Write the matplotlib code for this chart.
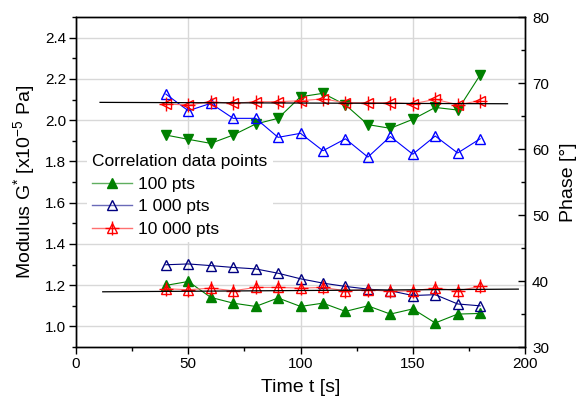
import numpy as np
import matplotlib
matplotlib.use('Agg')
import matplotlib.pyplot as plt
from matplotlib.lines import Line2D
from matplotlib.ticker import MultipleLocator

# sampling times [s]
time_s = [40, 50, 60, 70, 80, 90, 100, 110, 120, 130, 140, 150, 160, 170, 180]

# modulus G* [x10^-5 Pa] for the three correlation lengths
mod_100 = [1.199, 1.218, 1.141, 1.113, 1.097, 1.138, 1.097, 1.113, 1.073, 1.100,
           1.060, 1.085, 1.017, 1.060, 1.063]
mod_1000 = [1.299, 1.303, 1.295, 1.286, 1.279, 1.258, 1.231, 1.210, 1.194, 1.181,
            1.173, 1.150, 1.154, 1.109, 1.100]
mod_10000 = [1.183, 1.178, 1.186, 1.173, 1.189, 1.189, 1.186, 1.189, 1.173, 1.178,
             1.170, 1.173, 1.186, 1.173, 1.194]

# phase angle [deg]
phase_100 = [62.12, 61.47, 60.86, 62.12, 63.79, 64.65, 67.92, 68.44, 66.70, 63.70,
             63.14, 64.50, 66.30, 65.91, 71.21]
phase_1000 = [68.33, 65.80, 66.92, 64.65, 64.65, 61.77, 62.38, 59.74, 61.55, 58.78,
              61.90, 59.22, 61.97, 59.40, 61.55]
phase_10000 = [66.82, 66.67, 67.17, 66.92, 67.17, 67.17, 67.32, 67.60, 67.02, 67.02,
               67.02, 66.85, 67.53, 66.72, 67.32]

# straight reference fits
fit_mod_t = [11.9, 197.0]
fit_mod = [1.168, 1.181]
fit_phase_t = [10.7, 192.2]
fit_phase = [67.07, 66.86]

legend_labels = ['100 pts', '1 000 pts', '10 000 pts']

plt.rcParams.update({
    'font.family': ['Liberation Sans', 'DejaVu Sans'],
    'mathtext.default': 'regular',
    'font.size': 11,
    'axes.linewidth': 1.0,
})

fig = plt.figure(figsize=(5.76, 4.05), dpi=100)
ax = fig.add_axes([0.132, 0.143, 0.7795, 0.815])
ax2 = ax.twinx()

GREEN = '#008000'
NAVY = '#000080'
BLUE = '#0000ff'
RED = '#ff0000'
ms = 6.8
lw = 0.8

# modulus on the left axis
ax.plot(time_s, mod_100, color=GREEN, lw=lw, marker='^', ms=ms,
        mfc=GREEN, mec=GREEN, zorder=3)
ax.plot(time_s, mod_1000, color=NAVY, lw=lw, marker='^', ms=ms,
        mfc='none', mec=NAVY, mew=1.0, zorder=3)
ax.plot(time_s, mod_10000, color='#ff7070', lw=lw, marker='^', ms=ms,
        mfc='none', mec=RED, mew=1.0, zorder=4)
ax.plot(time_s, mod_10000, ls='none', marker='+', ms=9.5, mec=RED, mew=1.0, zorder=4)
ax.plot(fit_mod_t, fit_mod, color='black', lw=0.9, zorder=5)

# phase on the right axis
ax2.plot(time_s, phase_100, color=GREEN, lw=lw, marker='v', ms=ms,
         mfc=GREEN, mec=GREEN, zorder=3)
ax2.plot(time_s, phase_1000, color=BLUE, lw=lw, marker='^', ms=ms,
         mfc='none', mec=BLUE, mew=1.0, zorder=3)
ax2.plot(time_s, phase_10000, color='#ff7070', lw=lw, marker='<', ms=ms,
         mfc='none', mec=RED, mew=1.0, zorder=4)
ax2.plot(time_s, phase_10000, ls='none', marker='+', ms=9.5, mec=RED, mew=1.0, zorder=4)
ax2.plot(fit_phase_t, fit_phase, color='black', lw=0.9, zorder=5)

ax.set_xlim(0, 200)
ax.set_ylim(0.9, 2.5)
ax2.set_ylim(30, 80)

ax.xaxis.set_major_locator(MultipleLocator(50))
ax.xaxis.set_minor_locator(MultipleLocator(25))
ax.yaxis.set_major_locator(MultipleLocator(0.2))
ax.yaxis.set_minor_locator(MultipleLocator(0.1))
ax2.yaxis.set_major_locator(MultipleLocator(10))
ax2.yaxis.set_minor_locator(MultipleLocator(5))
ax.yaxis.set_major_formatter(matplotlib.ticker.FormatStrFormatter('%.1f'))

ax.tick_params(axis='both', which='major', direction='out', length=5, width=1.0,
               labelsize=11, pad=2)
ax.tick_params(axis='both', which='minor', direction='out', length=3, width=1.0)
ax2.tick_params(axis='y', which='major', direction='in', length=5, width=1.0,
                labelsize=11, pad=5)
ax2.tick_params(axis='y', which='minor', direction='in', length=3, width=1.0)

ax.grid(True, which='major', color='#d8d8d8', lw=1.0, zorder=0)
ax.set_axisbelow(True)

ax.set_xlabel('Time t [s]', fontsize=14, labelpad=6)
ax.set_ylabel(r'Modulus G$^{*}$ [x10$^{-5}$ Pa]', fontsize=14, labelpad=6)
ax2.set_ylabel('Phase [°]', fontsize=14, labelpad=8)

# legend built from proxy handles with softer line colours
h100 = Line2D([], [], color='#5fae5f', lw=1.0, marker='^', ms=ms, mfc=GREEN, mec=GREEN)
h1000 = Line2D([], [], color='#6a6ab8', lw=1.0, marker='^', ms=ms, mfc='none',
               mec=NAVY, mew=1.0)
h10000_a = Line2D([], [], color='#ff7070', lw=1.0, marker='^', ms=ms, mfc='none',
                  mec=RED, mew=1.0)
h10000_b = Line2D([], [], ls='none', marker='+', ms=9.5, mec=RED, mew=1.0)
leg = ax.legend([h100, h1000, (h10000_a, h10000_b)], legend_labels,
                title='Correlation data points', loc='upper left',
                bbox_to_anchor=(0.025, 0.6), fontsize=12.5, title_fontsize=12.5,
                frameon=True, framealpha=1, edgecolor='none', facecolor='white',
                handlelength=2.3, handletextpad=0.35, labelspacing=0.42,
                borderpad=0.3, borderaxespad=0)
leg._legend_box.align = 'left'
leg.set_zorder(6)

fig.savefig('out.png', dpi=100)
